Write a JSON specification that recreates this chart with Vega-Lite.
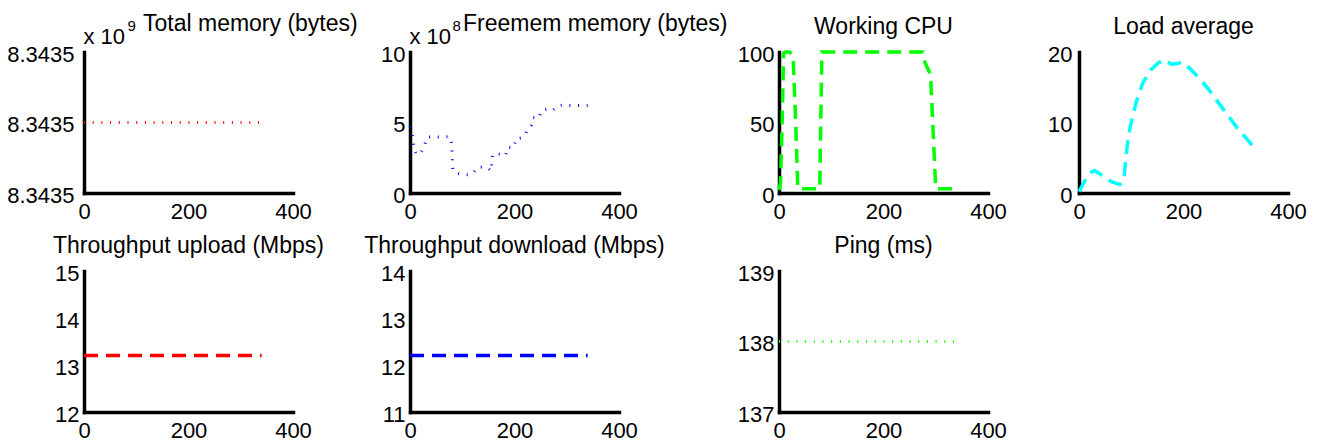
{
  "$schema": "https://vega.github.io/schema/vega-lite/v6.json",
  "background": "white",
  "padding": {"left": 6, "top": 13, "right": 5, "bottom": 5},
  "datasets": {
    "total": [
      {"t": 0, "bytes": 8343457792}, {"t": 20, "bytes": 8343457792}, {"t": 40, "bytes": 8343457792},
      {"t": 60, "bytes": 8343457792}, {"t": 80, "bytes": 8343457792}, {"t": 100, "bytes": 8343457792},
      {"t": 120, "bytes": 8343457792}, {"t": 140, "bytes": 8343457792}, {"t": 160, "bytes": 8343457792},
      {"t": 180, "bytes": 8343457792}, {"t": 200, "bytes": 8343457792}, {"t": 220, "bytes": 8343457792},
      {"t": 240, "bytes": 8343457792}, {"t": 260, "bytes": 8343457792}, {"t": 280, "bytes": 8343457792},
      {"t": 300, "bytes": 8343457792}, {"t": 320, "bytes": 8343457792}, {"t": 340, "bytes": 8343457792}
    ],
    "free": [
      {"t": 0, "bytes": 470000000}, {"t": 4, "bytes": 425000000}, {"t": 8, "bytes": 310000000},
      {"t": 12, "bytes": 275000000}, {"t": 18, "bytes": 275000000}, {"t": 23, "bytes": 300000000},
      {"t": 28, "bytes": 340000000}, {"t": 33, "bytes": 395000000}, {"t": 45, "bytes": 400000000},
      {"t": 60, "bytes": 395000000}, {"t": 75, "bytes": 400000000}, {"t": 79, "bytes": 380000000},
      {"t": 82, "bytes": 160000000}, {"t": 90, "bytes": 140000000}, {"t": 102, "bytes": 130000000},
      {"t": 114, "bytes": 130000000}, {"t": 121, "bytes": 140000000}, {"t": 128, "bytes": 180000000},
      {"t": 140, "bytes": 185000000}, {"t": 150, "bytes": 175000000}, {"t": 155, "bytes": 155000000},
      {"t": 158, "bytes": 275000000}, {"t": 170, "bytes": 275000000}, {"t": 183, "bytes": 265000000},
      {"t": 187, "bytes": 325000000}, {"t": 198, "bytes": 320000000}, {"t": 203, "bytes": 385000000},
      {"t": 212, "bytes": 390000000}, {"t": 220, "bytes": 410000000}, {"t": 226, "bytes": 460000000},
      {"t": 232, "bytes": 480000000}, {"t": 236, "bytes": 535000000}, {"t": 246, "bytes": 530000000},
      {"t": 252, "bytes": 585000000}, {"t": 262, "bytes": 595000000}, {"t": 273, "bytes": 585000000},
      {"t": 282, "bytes": 615000000}, {"t": 292, "bytes": 625000000}, {"t": 310, "bytes": 620000000},
      {"t": 325, "bytes": 620000000}, {"t": 340, "bytes": 620000000}
    ],
    "cpu": [
      {"t": 0, "pct": 2}, {"t": 3, "pct": 8}, {"t": 6, "pct": 50}, {"t": 9, "pct": 99},
      {"t": 12, "pct": 100}, {"t": 20, "pct": 100}, {"t": 27, "pct": 98}, {"t": 32, "pct": 50},
      {"t": 36, "pct": 3}, {"t": 45, "pct": 3}, {"t": 60, "pct": 3}, {"t": 78, "pct": 3},
      {"t": 82, "pct": 100}, {"t": 150, "pct": 100}, {"t": 275, "pct": 100}, {"t": 279, "pct": 93},
      {"t": 285, "pct": 88}, {"t": 290, "pct": 84}, {"t": 300, "pct": 3}, {"t": 320, "pct": 3},
      {"t": 340, "pct": 3}
    ],
    "load": [
      {"t": 0, "avg": 0.2}, {"t": 11, "avg": 1.7}, {"t": 21, "avg": 2.85}, {"t": 30, "avg": 3.2},
      {"t": 46, "avg": 2.4}, {"t": 62, "avg": 1.6}, {"t": 78, "avg": 1.2}, {"t": 86, "avg": 1.9},
      {"t": 89, "avg": 4.5}, {"t": 94, "avg": 7.8}, {"t": 100, "avg": 10.1}, {"t": 110, "avg": 13},
      {"t": 122, "avg": 15.6}, {"t": 138, "avg": 17.5}, {"t": 151, "avg": 18.4}, {"t": 164, "avg": 18.9},
      {"t": 177, "avg": 18.25}, {"t": 189, "avg": 18.4}, {"t": 199, "avg": 18.55}, {"t": 215, "avg": 17.45},
      {"t": 230, "avg": 16.3}, {"t": 246, "avg": 14.9}, {"t": 265, "avg": 13}, {"t": 284, "avg": 11.1},
      {"t": 303, "avg": 9.2}, {"t": 322, "avg": 7.6}, {"t": 340, "avg": 6.0}
    ],
    "upload": [
      {"t": 0, "mbps": 13.2}, {"t": 40, "mbps": 13.2}, {"t": 80, "mbps": 13.2}, {"t": 120, "mbps": 13.2},
      {"t": 160, "mbps": 13.2}, {"t": 200, "mbps": 13.2}, {"t": 240, "mbps": 13.2}, {"t": 280, "mbps": 13.2},
      {"t": 320, "mbps": 13.2}, {"t": 340, "mbps": 13.2}
    ],
    "download": [
      {"t": 0, "mbps": 12.2}, {"t": 40, "mbps": 12.2}, {"t": 80, "mbps": 12.2}, {"t": 120, "mbps": 12.2},
      {"t": 160, "mbps": 12.2}, {"t": 200, "mbps": 12.2}, {"t": 240, "mbps": 12.2}, {"t": 280, "mbps": 12.2},
      {"t": 320, "mbps": 12.2}, {"t": 340, "mbps": 12.2}
    ],
    "ping": [
      {"t": 0, "ms": 138}, {"t": 40, "ms": 138}, {"t": 80, "ms": 138}, {"t": 120, "ms": 138},
      {"t": 160, "ms": 138}, {"t": 200, "ms": 138}, {"t": 240, "ms": 138}, {"t": 280, "ms": 138},
      {"t": 320, "ms": 138}, {"t": 340, "ms": 138}
    ]
  },
  "columns": 7,
  "bounds": "flush",
  "spacing": {"row": 78, "column": 0},
  "concat": [
    {
      "width": 209, "height": 141,
      "title": {"text": "Total memory (bytes)", "anchor": "start", "dx": 59, "offset": -18},
      "data": {"name": "total"},
      "mark": {"type": "line", "color": "#ff0000", "strokeWidth": 3, "strokeDash": [1, 7.7], "strokeCap": "butt"},
      "encoding": {
        "x": {"field": "t", "type": "quantitative", "scale": {"domain": [0, 400], "nice": false, "zero": false},
              "axis": {"values": [0, 200, 400], "title": "9", "titleX": 43, "titleY": -163, "titleFontSize": 15, "titleAlign": "left", "titleBaseline": "alphabetic", "titleAnchor": null, "titleAngle": 0}},
        "y": {"field": "bytes", "type": "quantitative", "scale": {"domain": [8343457791, 8343457793], "nice": false, "zero": false},
              "axis": {"values": [8343457791, 8343457792, 8343457793], "labelExpr": "format(datum.value / 1e9, '.4f')", "labelPadding": 10,
                       "title": "x 10", "titleAngle": 0, "titleX": -1, "titleY": -9, "titleAlign": "left", "titleBaseline": "alphabetic", "titleAnchor": null}}
      }
    },
    {"width": 116.5, "height": 141, "data": {"values": []}, "mark": "point"},
    {
      "width": 209, "height": 141,
      "title": {"text": "Freemem memory (bytes)", "anchor": "start", "dx": 53, "offset": -18},
      "data": {"name": "free"},
      "mark": {"type": "line", "color": "#0000ff", "strokeWidth": 3, "strokeDash": [1, 7.7], "strokeCap": "butt"},
      "encoding": {
        "x": {"field": "t", "type": "quantitative", "scale": {"domain": [0, 400], "nice": false, "zero": false},
              "axis": {"values": [0, 200, 400], "title": "8", "titleX": 42, "titleY": -163, "titleFontSize": 15, "titleAlign": "left", "titleBaseline": "alphabetic", "titleAnchor": null, "titleAngle": 0}},
        "y": {"field": "bytes", "type": "quantitative", "scale": {"domain": [0, 1000000000], "nice": false, "zero": false},
              "axis": {"values": [0, 500000000, 1000000000], "labelExpr": "format(datum.value / 1e8, '.0f')",
                       "title": "x 10", "titleAngle": 0, "titleX": -1, "titleY": -9, "titleAlign": "left", "titleBaseline": "alphabetic", "titleAnchor": null}}
      }
    },
    {"width": 160, "height": 141, "data": {"values": []}, "mark": "point"},
    {
      "width": 209, "height": 141,
      "title": {"text": "Working CPU"},
      "data": {"name": "cpu"},
      "mark": {"type": "line", "color": "#00ff00", "strokeWidth": 3.5, "strokeDash": [14, 8]},
      "encoding": {
        "x": {"field": "t", "type": "quantitative", "title": null, "scale": {"domain": [0, 400], "nice": false, "zero": false}, "axis": {"values": [0, 200, 400]}},
        "y": {"field": "pct", "type": "quantitative", "title": null, "scale": {"domain": [0, 100], "nice": false, "zero": false}, "axis": {"values": [0, 50, 100]}}
      }
    },
    {"width": 91, "height": 141, "data": {"values": []}, "mark": "point"},
    {
      "width": 209, "height": 141,
      "title": {"text": "Load average"},
      "data": {"name": "load"},
      "mark": {"type": "line", "color": "#00ffff", "strokeWidth": 3.5, "strokeDash": [14, 8]},
      "encoding": {
        "x": {"field": "t", "type": "quantitative", "title": null, "scale": {"domain": [0, 400], "nice": false, "zero": false}, "axis": {"values": [0, 200, 400]}},
        "y": {"field": "avg", "type": "quantitative", "title": null, "scale": {"domain": [0, 20], "nice": false, "zero": false}, "axis": {"values": [0, 10, 20], "labelPadding": 7}}
      }
    },
    {
      "width": 209, "height": 141,
      "title": {"text": "Throughput upload (Mbps)"},
      "data": {"name": "upload"},
      "mark": {"type": "line", "color": "#ff0000", "strokeWidth": 3.5, "strokeDash": [14, 8]},
      "encoding": {
        "x": {"field": "t", "type": "quantitative", "title": null, "scale": {"domain": [0, 400], "nice": false, "zero": false}, "axis": {"values": [0, 200, 400]}},
        "y": {"field": "mbps", "type": "quantitative", "title": null, "scale": {"domain": [12, 15], "nice": false, "zero": false}, "axis": {"values": [12, 13, 14, 15], "format": ".0f"}}
      }
    },
    {"width": 116.5, "height": 141, "data": {"values": []}, "mark": "point"},
    {
      "width": 209, "height": 141,
      "title": {"text": "Throughput download (Mbps)"},
      "data": {"name": "download"},
      "mark": {"type": "line", "color": "#0000ff", "strokeWidth": 3.5, "strokeDash": [14, 8]},
      "encoding": {
        "x": {"field": "t", "type": "quantitative", "title": null, "scale": {"domain": [0, 400], "nice": false, "zero": false}, "axis": {"values": [0, 200, 400]}},
        "y": {"field": "mbps", "type": "quantitative", "title": null, "scale": {"domain": [11, 14], "nice": false, "zero": false}, "axis": {"values": [11, 12, 13, 14], "format": ".0f"}}
      }
    },
    {"width": 160, "height": 141, "data": {"values": []}, "mark": "point"},
    {
      "width": 209, "height": 141,
      "title": {"text": "Ping (ms)"},
      "data": {"name": "ping"},
      "mark": {"type": "line", "color": "#00ff00", "strokeWidth": 3, "strokeDash": [1, 7.7], "strokeCap": "butt"},
      "encoding": {
        "x": {"field": "t", "type": "quantitative", "title": null, "scale": {"domain": [0, 400], "nice": false, "zero": false}, "axis": {"values": [0, 200, 400]}},
        "y": {"field": "ms", "type": "quantitative", "title": null, "scale": {"domain": [137, 139], "nice": false, "zero": false}, "axis": {"values": [137, 138, 139], "format": ".0f"}}
      }
    }
  ],
  "config": {
    "view": {"stroke": null},
    "font": "Liberation Sans",
    "axis": {
      "domainColor": "black", "domainWidth": 3.5, "domainCap": "square",
      "ticks": false, "tickSize": 0, "grid": false,
      "labelFont": "Liberation Sans", "labelFontSize": 22, "labelColor": "black", "labelPadding": 5,
      "labelFlush": false, "labelOverlap": false, "labelBound": false,
      "titleFont": "Liberation Sans", "titleFontWeight": "normal", "titleColor": "black", "titleFontSize": 22
    },
    "axisX": {"labelPadding": 8},
    "axisY": {"labelOffset": 2},
    "title": {"font": "Liberation Sans", "fontSize": 23, "fontWeight": "normal", "color": "black", "baseline": "alphabetic", "offset": 4, "frame": "group"}
  }
}
